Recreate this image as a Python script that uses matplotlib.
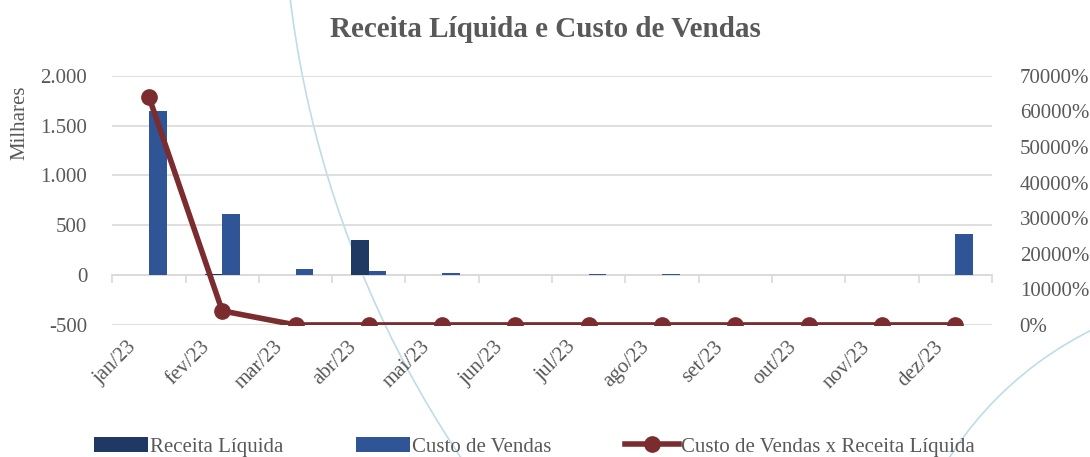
import matplotlib
matplotlib.use("Agg")
import matplotlib.pyplot as plt
import matplotlib.transforms as mtransforms
import numpy as np
from matplotlib.patches import Arc

plt.rcParams['font.family'] = ['Liberation Serif', 'DejaVu Serif']

meses = ["jan/23", "fev/23", "mar/23", "abr/23", "mai/23", "jun/23",
         "jul/23", "ago/23", "set/23", "out/23", "nov/23", "dez/23"]
receita = [2.6, 15, 0, 350, 0, 0, 0, 0, 0, 0, 0, 0]          # milhares
custo = [1650, 610, 60, 40, 20, 0, 15, 15, 0, 0, 0, 415]      # milhares
custo_x_receita = [64100, 3950, 0, 0, 0, 0, 0, 0, 0, 0, 0, 0]  # %

cor_receita = "#1F3864"
cor_custo = "#2F5597"
cor_linha = "#7B2C2F"
cinza = "#595959"

W, H = 1090, 457
fig = plt.figure(figsize=(W / 100, H / 100), dpi=100)
ax = fig.add_axes([0.103, 0.289, 0.807, 0.545])

# decorative background arcs (pixel coordinates, y downwards)
pix = mtransforms.Affine2D().scale(1 / W, -1 / H).translate(0, 1) + fig.transFigure
fig.add_artist(Arc((1333, -128), 2101, 2101, theta1=135, theta2=176,
                   transform=pix, color="#BFDCE8", lw=1.2, zorder=0))
fig.add_artist(Arc((1250, 650), 714, 714, theta1=180, theta2=270,
                   transform=pix, color="#BFDCE8", lw=1.2, zorder=0))

x = np.arange(len(meses))
w = 0.24
ax.bar(x - w / 2, receita, w, color=cor_receita, label="Receita Líquida", zorder=3)
ax.bar(x + w / 2, custo, w, color=cor_custo, label="Custo de Vendas", zorder=3)

ax.set_xlim(-0.5, len(meses) - 0.5)
ax.set_ylim(-500, 2000)
ax.set_yticks([-500, 0, 500, 1000, 1500, 2000])
ax.set_yticklabels(["-500", "0", "500", "1.000", "1.500", "2.000"])
ax.grid(axis="y", color="#D9D9D9", lw=1.2, zorder=0)
ax.set_axisbelow(True)
ax.patch.set_alpha(0)
for s in ax.spines.values():
    s.set_visible(False)
ax.tick_params(axis="y", length=0, labelsize=15, labelcolor=cinza, pad=18)
ax.set_xticks(x)
ax.set_xticklabels(meses, rotation=45, ha="right", va="center",
                   rotation_mode="anchor")
ax.tick_params(axis="x", length=0, labelsize=15, labelcolor=cinza, pad=14)
shift = mtransforms.ScaledTranslation(-0.15, 0, fig.dpi_scale_trans)
for lbl in ax.get_xticklabels():
    lbl.set_transform(lbl.get_transform() + shift)
ax.set_ylabel("Milhares", fontsize=15, color=cinza, y=0.81, labelpad=8)

# category axis drawn at zero
sec = ax.secondary_xaxis(0.2)
sec.set_xticks(np.arange(len(meses) + 1) - 0.5)
sec.set_xticklabels([])
sec.tick_params(axis="x", direction="out", length=6, color="#D9D9D9", width=1.2)
sec.spines["bottom"].set_color("#D9D9D9")
sec.spines["bottom"].set_linewidth(1.2)

ax2 = ax.twinx()
ax2.plot(x, custo_x_receita, color=cor_linha, lw=4, marker="o", ms=11,
         label="Custo de Vendas x Receita Líquida", zorder=4)
ax2.set_ylim(0, 70000)
ax2.set_yticks(np.arange(0, 70001, 10000))
ax2.set_yticklabels([f"{v}%" for v in range(0, 70001, 10000)])
ax2.tick_params(axis="y", length=0, labelsize=15, labelcolor=cinza, pad=20)
for s in ax2.spines.values():
    s.set_visible(False)

fig.suptitle("Receita Líquida e Custo de Vendas", fontsize=21, fontweight="bold",
             color=cinza, y=0.965)

h1, l1 = ax.get_legend_handles_labels()
h2, l2 = ax2.get_legend_handles_labels()
fig.legend(h1 + h2, l1 + l2, loc="lower center", bbox_to_anchor=(0.49, -0.04),
           ncol=3, frameon=False, fontsize=15, labelcolor=cinza,
           handlelength=2.6, handletextpad=0.1, columnspacing=3.5)

fig.savefig("out.png", dpi=100)
